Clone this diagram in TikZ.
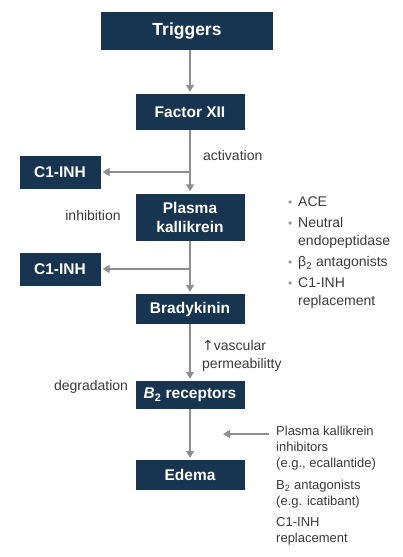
\documentclass[tikz,border=0pt]{standalone}
\usepackage{fontspec}
\setmainfont{Liberation Sans}
\newfontfamily\symfont{DejaVu Sans}
\usetikzlibrary{arrows.meta}

\definecolor{boxblue}{HTML}{173550}
\definecolor{arrowgray}{HTML}{8E8E8E}
\definecolor{labelgray}{HTML}{3A3A3A}
\definecolor{dotgray}{HTML}{9A9A9A}

\newcommand{\boxfont}{\fontsize{15.5}{19}\bfseries\selectfont}
\newcommand{\trigfont}{\fontsize{17.5}{21}\bfseries\selectfont}
\newcommand{\lblfont}{\fontsize{14}{18}\selectfont}
\newcommand{\smlfont}{\fontsize{13}{16}\selectfont}
\newcommand{\bul}{\makebox[10pt][l]{\textcolor{dotgray}{\fontsize{12}{12}\selectfont\textbullet}}}
\newcommand{\nobul}{\hspace*{10pt}}

\tikzset{
  box/.style={fill=boxblue, text=white, font=\boxfont, align=center,
    minimum width=109pt, inner sep=0pt},
  flow/.style={draw=arrowgray, line width=1.4pt,
    -{Triangle[length=7pt,width=8pt]}, shorten >=2pt},
  lbl/.style={text=labelgray, font=\lblfont, inner sep=0pt},
}

\begin{document}
\begin{tikzpicture}[x=1pt,y=-1pt]
\useasboundingbox (0,0) rectangle (402,557);

% main chain
\node[box, minimum width=172pt, minimum height=38pt, font=\trigfont] (trig) at (187,31) {Triggers};
\node[box, minimum height=36pt] (fxii) at (190,112) {Factor XII};
\node[box, minimum height=47pt] (pk) at (190,217) {Plasma\\kallikrein};
\node[box, minimum height=30pt] (bk) at (190,309) {Bradykinin};
\node[box, minimum height=28pt] (btwo) at (190,395) {\textit{B}\textsubscript{2} receptors};
\node[box, minimum height=30pt] (edema) at (190,475) {Edema};

% inhibitors on the left
\node[box, minimum width=81pt, minimum height=33pt] (cia) at (60,172) {C1-INH};
\node[box, minimum width=81pt, minimum height=33pt] (cib) at (60,269) {C1-INH};

\draw[flow] (trig.south -| fxii.north) -- (fxii.north);
\draw[flow] (fxii) -- (pk);
\draw[flow] (fxii.south |- cia.east) -- (cia.east);
\draw[flow] (pk) -- (bk);
\draw[flow] (pk.south |- cib.east) -- (cib.east);
\draw[flow] (bk) -- (btwo);
\draw[flow] (btwo) -- (edema);

% labels
\node[lbl, anchor=west] (act) at (203,155) {activation};
\node[lbl] (inh) at (93,215) {inhibition};
\node[lbl, anchor=west, align=left] (perm) at (202,356) {{\symfont ↑}vascular\\permeabilitty};
\node[lbl] (deg) at (91,387) {degradation};

\node[lbl, anchor=north west, align=left] (drugs) at (288,197)
  {\bul ACE\\[3pt]
   \bul Neutral\\
   \nobul endopeptidase\\[3pt]
   \bul β\textsubscript{2} antagonists\\[3pt]
   \bul C1-INH\\
   \nobul replacement};

\node[lbl, font=\smlfont, anchor=north west, align=left] (pki) at (276,426)
  {Plasma kallikrein\\
   inhibitors\\
   (e.g., ecallantide)\\[6pt]
   B\textsubscript{2} antagonists\\
   (e.g. icatibant)\\[5pt]
   C1-INH\\
   replacement};

\coordinate (src) at (269,434);
\coordinate (tgt) at (223,434);
\draw[flow, shorten >=0pt] (src) -- (tgt);
\end{tikzpicture}
\end{document}
